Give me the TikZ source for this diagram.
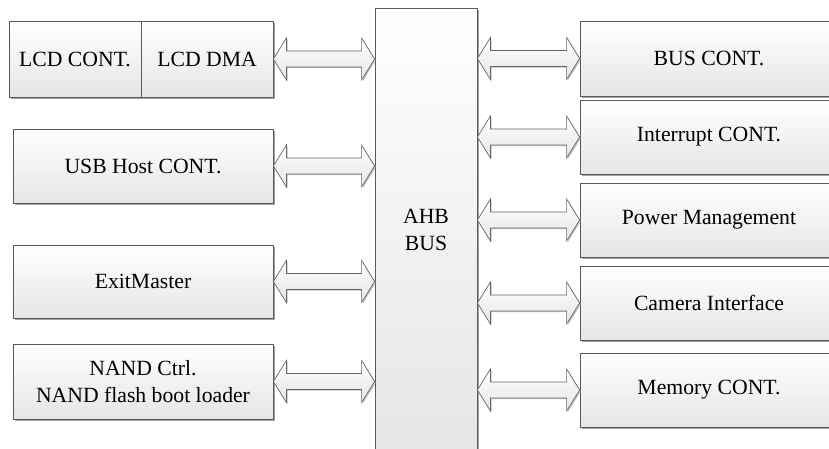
\documentclass[tikz,border=0pt]{standalone}
\usepackage{fontspec}
\setmainfont{Liberation Serif}
\usetikzlibrary{calc,shadows}
\tikzset{
  blk/.style={draw=black!65, line width=0.8pt, top color=white, bottom color=black!10,
    drop shadow={shadow xshift=1.6pt, shadow yshift=-1.6pt, fill=black!45, opacity=0.8},
    inner sep=0pt, align=center, font=\fontsize{21.7}{26.5}\selectfont},
  fatarr/.style={draw=black!60, line width=0.7pt, top color=white, bottom color=black!10,
    drop shadow={shadow xshift=1.2pt, shadow yshift=-1.2pt, fill=black!35, opacity=0.7}},
}
\newcommand{\fatarrow}[2]{%
  \path[fatarr] (#1) -- ($(#1)+(13,-21)$) -- ($(#1)+(13,-8)$) -- ($(#2)+(-13,-8)$)
    -- ($(#2)+(-13,-21)$) -- (#2) -- ($(#2)+(-13,21)$) -- ($(#2)+(-13,8)$)
    -- ($(#1)+(13,8)$) -- ($(#1)+(13,21)$) -- cycle;}
\begin{document}
\begin{tikzpicture}[x=1pt,y=-1pt]
\useasboundingbox (0,0) rectangle (829,448);
% bus
\node[blk, minimum width=102pt, minimum height=444pt] (bus) at (426,230) {AHB\\BUS};
% left
\node[blk, minimum width=132pt, minimum height=76pt] (lcdc) at (75,59) {LCD CONT.};
\node[blk, minimum width=132pt, minimum height=76pt] (lcdd) at (207,59) {LCD DMA};
\node[blk, minimum width=260pt, minimum height=74pt] (usb) at (143,166) {USB Host CONT.};
\node[blk, minimum width=260pt, minimum height=73pt] (exit) at (143,281.5) {ExitMaster};
\node[blk, minimum width=260pt, minimum height=75pt] (nand) at (143,381.5) {NAND Ctrl.\\NAND flash boot loader};
% right
\node[blk, minimum width=258pt, minimum height=75pt] (busc) at (709,58.5) {BUS CONT.};
\node[blk, minimum width=258pt, minimum height=74pt] (intc) at (709,137) {Interrupt CONT.};
\node[blk, minimum width=258pt, minimum height=74pt] (pwr) at (709,220) {Power Management};
\node[blk, minimum width=258pt, minimum height=74pt] (cam) at (709,303) {Camera Interface};
\node[blk, minimum width=258pt, minimum height=74pt] (mem) at (709,390) {Memory CONT.};
% connectors
\coordinate (l1) at (bus.west |- lcdd.east);
\coordinate (l2) at (bus.west |- usb.east);
\coordinate (l3) at (bus.west |- exit.east);
\coordinate (l4) at (bus.west |- nand.east);
\fatarrow{lcdd.east}{l1}
\fatarrow{usb.east}{l2}
\fatarrow{exit.east}{l3}
\fatarrow{nand.east}{l4}
\coordinate (r1) at (bus.east |- busc.west);
\coordinate (r2) at (bus.east |- intc.west);
\coordinate (r3) at (bus.east |- pwr.west);
\coordinate (r4) at (bus.east |- cam.west);
\coordinate (r5) at (bus.east |- mem.west);
\fatarrow{r1}{busc.west}
\fatarrow{r2}{intc.west}
\fatarrow{r3}{pwr.west}
\fatarrow{r4}{cam.west}
\fatarrow{r5}{mem.west}
\end{tikzpicture}
\end{document}
